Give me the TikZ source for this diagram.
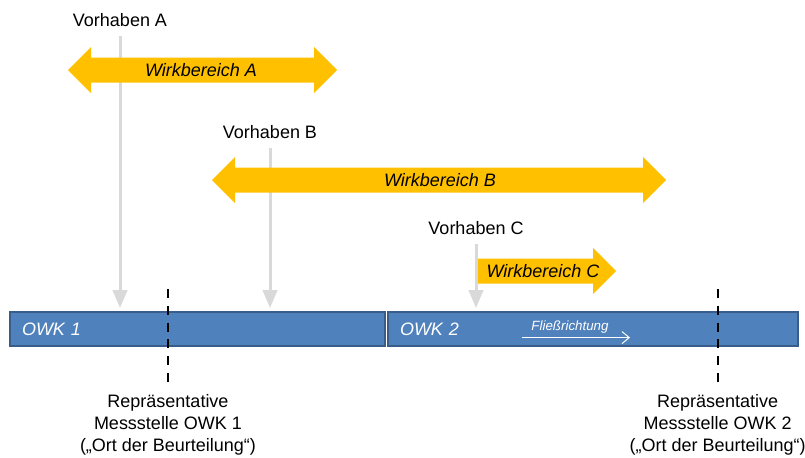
\documentclass[tikz,border=0pt]{standalone}
\usepackage{fontspec}
\setmainfont{Liberation Sans}
\usetikzlibrary{arrows.meta}
\definecolor{wirkorange}{HTML}{FFC000}
\definecolor{owkblau}{HTML}{4F81BD}
\definecolor{owkrand}{HTML}{385D8A}
\definecolor{zugrau}{HTML}{D9D9D9}
\begin{document}
\begin{tikzpicture}[x=1cm,y=1cm,
  font=\fontsize{12.8}{15.6}\selectfont,
  vorhaben/.style={inner sep=0.1cm},
  zuleitung/.style={draw=zugrau, line width=0.075cm, shorten <=0.14cm, -{Triangle[width=0.36cm,length=0.45cm]}},
  wirk/.style={fill=wirkorange},
  wirktext/.style={font=\fontsize{12.8}{15.6}\selectfont\itshape},
  gewaesser/.style={draw=owkrand, fill=owkblau, line width=0.06cm, minimum height=0.85cm, inner xsep=0.3cm, align=left, text=white, font=\fontsize{12.8}{15.6}\selectfont\itshape},
  messlinie/.style={line width=0.07cm, dash pattern=on 0.225cm off 0.195cm},
  messtext/.style={align=center}]
\useasboundingbox (0,0) rectangle (20.125,-11.425);
\node[vorhaben] (vA) at (3.0,-0.5) {Vorhaben A};
\node[vorhaben] (vB) at (6.75,-3.29) {Vorhaben B};
\node[vorhaben] (vC) at (11.9,-5.7) {Vorhaben C};
\coordinate (eA) at (3.0,-7.7);
\coordinate (eB) at (6.75,-7.7);
\coordinate (eC) at (11.9,-7.7);
\draw[zuleitung] (vA.south) -- (eA);
\draw[zuleitung] (vB.south) -- (eB);
\draw[zuleitung] (vC.south) -- (eC);
\fill[wirk] (1.7,-1.75) -- (2.275,-1.175) -- (2.275,-1.4375) -- (7.85,-1.4375) -- (7.85,-1.175)
  -- (8.425,-1.75) -- (7.85,-2.325) -- (7.85,-2.0625) -- (2.275,-2.0625) -- (2.275,-2.325) -- cycle;
\fill[wirk] (5.3,-4.5) -- (5.875,-3.925) -- (5.875,-4.1875) -- (16.075,-4.1875) -- (16.075,-3.925)
  -- (16.65,-4.5) -- (16.075,-5.075) -- (16.075,-4.8125) -- (5.875,-4.8125) -- (5.875,-5.075) -- cycle;
\fill[wirk] (11.95,-6.4625) -- (14.825,-6.4625) -- (14.825,-6.2) -- (15.4,-6.775) -- (14.825,-7.35)
  -- (14.825,-7.0875) -- (11.95,-7.0875) -- cycle;
\node[wirktext] (wA) at (5.025,-1.75) {Wirkbereich A};
\node[wirktext] (wB) at (11.0,-4.5) {Wirkbereich B};
\node[wirktext] (wC) at (13.575,-6.775) {Wirkbereich C};
\node[gewaesser, text width=8.775cm] (owk1) at (4.9375,-8.225) {OWK 1};
\node[gewaesser, text width=9.65cm] (owk2) at (14.825,-8.225) {OWK 2};
\node[text=white, font=\fontsize{9.5}{11.5}\selectfont\itshape] (fliess) at (14.25,-8.175) {Fließrichtung};
\coordinate (fl0) at (13.05,-8.44);
\coordinate (fl1) at (15.75,-8.44);
\draw[white, line width=0.025cm, -{Straight Barb[length=0.18cm,width=0.3cm]}] (fl0) -- (fl1);
\coordinate (m1o) at (4.2,-7.225);
\coordinate (m1u) at (4.2,-9.55);
\coordinate (m2o) at (17.95,-7.225);
\coordinate (m2u) at (17.95,-9.55);
\draw[messlinie] (m1o) -- (m1u);
\draw[messlinie] (m2o) -- (m2u);
\node[messtext] (mst1) at (4.2,-10.63) {Repräsentative\\Messstelle OWK 1\\(„Ort der Beurteilung“)};
\node[messtext] (mst2) at (17.94,-10.63) {Repräsentative\\Messstelle OWK 2\\(„Ort der Beurteilung“)};
\end{tikzpicture}
\end{document}
